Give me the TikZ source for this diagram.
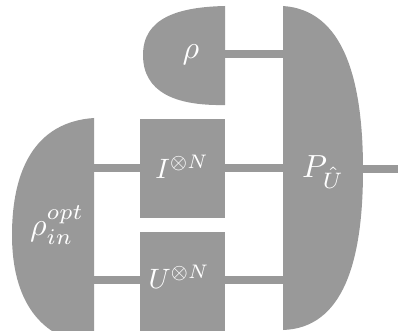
\documentclass[tikz,border=0pt]{standalone}
\usepackage{graphicx}
\definecolor{boxgray}{RGB}{153,153,153}
\begin{document}
\begin{tikzpicture}[x=1pt,y=-1pt,
  shapefill/.style={fill=boxgray,draw=none},
  wire/.style={draw=boxgray,line width=7.5pt},
  lbl/.style={text=white,inner sep=0pt}]
\useasboundingbox (0,0) rectangle (398,331);
\clip (0,0) rectangle (398,331);
% top rho
\fill[shapefill] (225,6) -- (225,105) .. controls (175,106) and (143,92) .. (143,55) .. controls (143,18) and (178,7) .. (225,6) -- cycle;
% left rho_in
\fill[shapefill] (94,118) -- (94,345) .. controls (40,340) and (12,300) .. (12,235) .. controls (12,170) and (35,122) .. (94,118) -- cycle;
% P shape
\fill[shapefill] (283,6) -- (283,330) .. controls (343,328) and (363,262) .. (363,170) .. controls (363,78) and (343,10) .. (283,6) -- cycle;
% boxes
\node[shapefill,minimum width=85pt,minimum height=99pt,inner sep=0pt,anchor=north west] (Ibox) at (140,119) {};
\node[shapefill,minimum width=85pt,minimum height=105pt,inner sep=0pt,anchor=north west] (Ubox) at (140,232) {};
% coordinates
\coordinate (rhoR) at (225,54);
\coordinate (PinA) at (284,54);
\coordinate (inA) at (93,168);
\coordinate (inB) at (93,280);
\coordinate (PinB) at (284,168);
\coordinate (PinC) at (284,280);
\coordinate (Pout) at (362,169);
\coordinate (outEnd) at (399,169);
\draw[wire] (rhoR) -- (PinA);
\draw[wire] (inA) -- (Ibox.west |- inA);
\draw[wire] (inB) -- (Ubox.west |- inB);
\draw[wire] (Ibox.east |- PinB) -- (PinB);
\draw[wire] (Ubox.east |- PinC) -- (PinC);
\draw[wire] (Pout) -- (outEnd);
% labels
\node[lbl] (rholbl) at (191,55) {\scalebox{3.2}{$\rho$}};
\node[lbl] (Ilbl) at (182,167) {\scalebox{2.8}{$I^{\otimes N}$}};
\node[lbl] (Ulbl) at (179,277) {\scalebox{2.8}{$U^{\otimes N}$}};
\node[lbl] (Plbl) at (323,172) {\scalebox{3.2}{$P_{\hat{U}}$}};
\node[lbl] (rinlbl) at (57,225) {\scalebox{3.2}{$\rho_{in}^{opt}$}};
\end{tikzpicture}
\end{document}
